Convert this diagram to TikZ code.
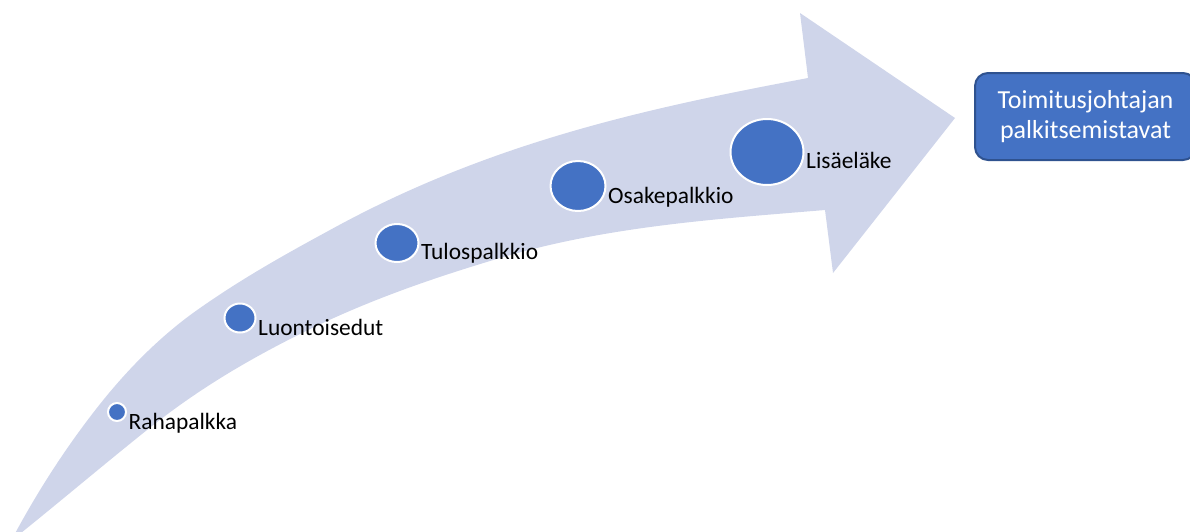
\documentclass[tikz,border=0pt]{standalone}
\usepackage{fontspec}
\setmainfont{Carlito}
\usetikzlibrary{shapes.geometric}
\definecolor{bandfill}{HTML}{CFD5EA}
\definecolor{dotblue}{HTML}{4472C4}
\definecolor{boxedge}{HTML}{2F528F}
\tikzset{
  stage/.style={ellipse, fill=dotblue, draw=white, line width=2pt, inner sep=0pt},
  stagelabel/.style={anchor=base west, inner sep=0pt, font=\fontsize{23.4}{28}\selectfont, text=black},
  goalbox/.style={rectangle, rounded corners=13pt, fill=dotblue, draw=boxedge, line width=2pt,
    minimum width=221pt, minimum height=87pt, align=center, text=white,
    font=\fontsize{26}{30}\selectfont}
}
\begin{document}
\begin{tikzpicture}[x=1pt, y=-1pt]
\useasboundingbox (0,0) rectangle (1190,531);
\clip (0,0) rectangle (1190,531);

% curved wide arrow: upper edge, head, lower edge back to the tail point
\fill[bandfill]
  (11,541) .. controls (38,490) and (66,448) .. (93,413)
           .. controls (126,370) and (160,337) .. (193,313)
           .. controls (239,280) and (284,255) .. (330,230)
           .. controls (490,142) and (648,108) .. (808,78)
  -- (800,13) -- (955,118) -- (833,273) -- (825,210)
           .. controls (717,219) and (608,226) .. (500,258)
           .. controls (433,278) and (367,300.5) .. (300,334)
           .. controls (249,359.5) and (198,389) .. (147,430)
           .. controls (102,466) and (56,505) .. (11,541)
  -- cycle;

% growing stages along the arrow
\node[stage, minimum width=18pt, minimum height=18pt] (s1) at (117,412) {};
\node[stage, minimum width=31pt, minimum height=29pt] (s2) at (240,318) {};
\node[stage, minimum width=43pt, minimum height=38pt] (s3) at (397,243) {};
\node[stage, minimum width=55pt, minimum height=50pt] (s4) at (578,186) {};
\node[stage, minimum width=73pt, minimum height=66pt] (s5) at (767,152) {};

\node[stagelabel] (l1) at ([xshift=1.5pt, yshift=-17pt]s1.east) {Rahapalkka};
\node[stagelabel] (l2) at ([xshift=1.5pt, yshift=-17pt]s2.east) {Luontoisedut};
\node[stagelabel] (l3) at ([xshift=1.5pt, yshift=-16pt]s3.east) {Tulospalkkio};
\node[stagelabel] (l4) at ([xshift=1.5pt, yshift=-17pt]s4.east) {Osakepalkkio};
\node[stagelabel] (l5) at ([xshift=1.5pt, yshift=-16pt]s5.east) {Lisäeläke};

% target box
\node[goalbox] (goal) at (1085.5,116.5) {Toimitusjohtajan\\palkitsemistavat};
\end{tikzpicture}
\end{document}
